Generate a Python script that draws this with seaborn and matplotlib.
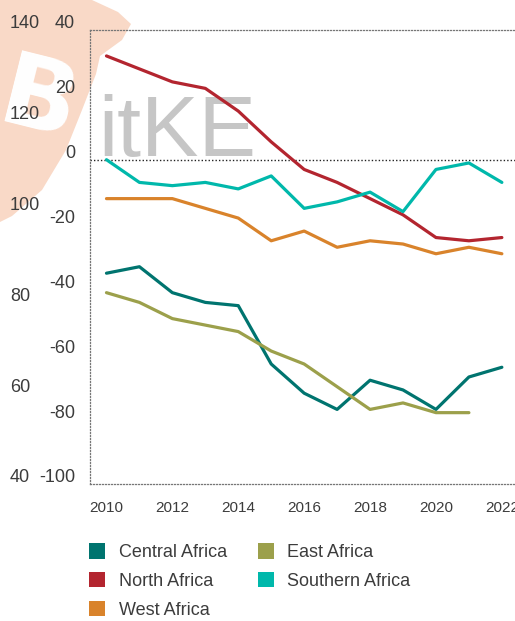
import numpy as np
import pandas as pd
import matplotlib
matplotlib.use("Agg")
import matplotlib.pyplot as plt
import seaborn as sns
from matplotlib.patches import Patch, Polygon
from matplotlib.transforms import ScaledTranslation

# ---------------- data ----------------
years = list(range(2010, 2023))
central_africa = [-35, -33, -41, -44, -45, -63, -72, -77, -68, -71, -77, -67, -64]
north_africa = [32, 28, 24, 22, 15, 5.5, -3, -7, -12, -17, -24, -25, -24]
west_africa = [-12, -12, -12, -15, -18, -25, -22, -27, -25, -26, -29, -27, -29]
east_africa = [-41, -44, -49, -51, -53, -59, -63, -70, -77, -75, -78, -78, np.nan]
southern_africa = [0, -7, -8, -7, -9, -5, -15, -13, -10, -16, -3, -1, -7]

regions = ["Central Africa", "North Africa", "West Africa", "East Africa", "Southern Africa"]
series = [central_africa, north_africa, west_africa, east_africa, southern_africa]
colors = ["#00746f", "#b3252f", "#d9832b", "#9ca04b", "#00b8ab"]

left_ticks = [-100, -80, -60, -40, -20, 0, 20, 40]
outer_ticks = [40, 60, 80, 100, 120, 140]
x_ticks = [2010, 2012, 2014, 2016, 2018, 2020, 2022]

rows = []
for name, vals in zip(regions, series):
    for y, v in zip(years, vals):
        rows.append({"year": y, "value": v, "region": name})
df = pd.DataFrame(rows).dropna()

# ---------------- style ----------------
sns.set_style("white")
FONT = ["Liberation Sans", "DejaVu Sans"]
plt.rcParams["font.family"] = FONT
plt.rcParams["axes.unicode_minus"] = False
TXT = "#3c3c3c"

W, H = 515, 621
fig = plt.figure(figsize=(W / 100, H / 100), dpi=100)
fig.patch.set_facecolor("white")

def fx(px):
    return px / W

def fy(py):
    return 1 - py / H

# watermark logo (peach blob with white B)
blob = [(0, 0), (92, 0), (118, 12), (131, 24), (122, 40), (100, 56), (96, 74),
        (82, 110), (66, 150), (42, 190), (12, 216), (0, 222)]
fig.add_artist(Polygon([(fx(a), fy(b)) for a, b in blob], closed=True,
                       transform=fig.transFigure, facecolor="#f9d9c7",
                       edgecolor="none", zorder=-2))
fig.text(fx(38), fy(104), "B", fontsize=72, rotation=-14, color="white",
         fontweight="bold", ha="center", va="center", family="DejaVu Sans",
         zorder=-1)

ax = fig.add_axes([fx(90), fy(484), fx(515) - fx(90) + 0.002, fy(30) - fy(484)])
ax.patch.set_alpha(0)

# watermark text
ax.text(fx(98), fy(156), "itKE", transform=fig.transFigure, fontsize=62,
        color="#c6c6c6", ha="left", va="baseline", zorder=0.5, family=FONT)

sns.lineplot(data=df, x="year", y="value", hue="region", hue_order=regions,
             palette=colors, linewidth=2.3, legend=False, ax=ax, zorder=3)

ax.set_xlim(2009.5, 2022.43)
ax.set_ylim(-100, 40)
ax.set_xticks(x_ticks)
ax.set_yticks(left_ticks)
ax.set_xlabel("")
ax.set_ylabel("")
ax.axhline(0, color="#222222", linewidth=1, linestyle=(0, (1, 1.5)), zorder=2)

for side in ["left", "top", "bottom"]:
    ax.spines[side].set_visible(True)
    ax.spines[side].set_color("#777777")
    ax.spines[side].set_linewidth(0.9)
    ax.spines[side].set_linestyle((0, (0.8, 1.6)))
ax.spines["right"].set_visible(False)

ax.tick_params(axis="both", length=0, colors=TXT)
ax.tick_params(axis="y", labelsize=13, pad=10.8)
ax.tick_params(axis="x", labelsize=11, pad=12.5)
up = ScaledTranslation(0, 8 / 100, fig.dpi_scale_trans)
for lab in ax.get_yticklabels():
    lab.set_transform(lab.get_transform() + up)

# outer (secondary) scale
ax2 = ax.twinx()
ax2.set_ylim(40, 140)
ax2.set_yticks(outer_ticks)
ax2.yaxis.tick_left()
for s in ax2.spines.values():
    s.set_visible(False)
ax2.tick_params(axis="y", length=0, colors=TXT, labelsize=13, pad=(90 - 10) * 0.72)
for lab in ax2.get_yticklabels():
    lab.set_horizontalalignment("left")
    lab.set_transform(lab.get_transform() + up)
ax2.patch.set_alpha(0)

# legend
handles = [Patch(facecolor=c, edgecolor="none") for c in colors]
fig.legend(handles, regions, loc="upper left", ncol=2,
           bbox_to_anchor=(fx(89), fy(543)), frameon=False, fontsize=13,
           handlelength=0.9, handleheight=0.95, handletextpad=0.75,
           columnspacing=1.7, labelspacing=0.6, borderpad=0, borderaxespad=0,
           labelcolor=TXT)

fig.savefig("out.png", dpi=100, facecolor="white")
